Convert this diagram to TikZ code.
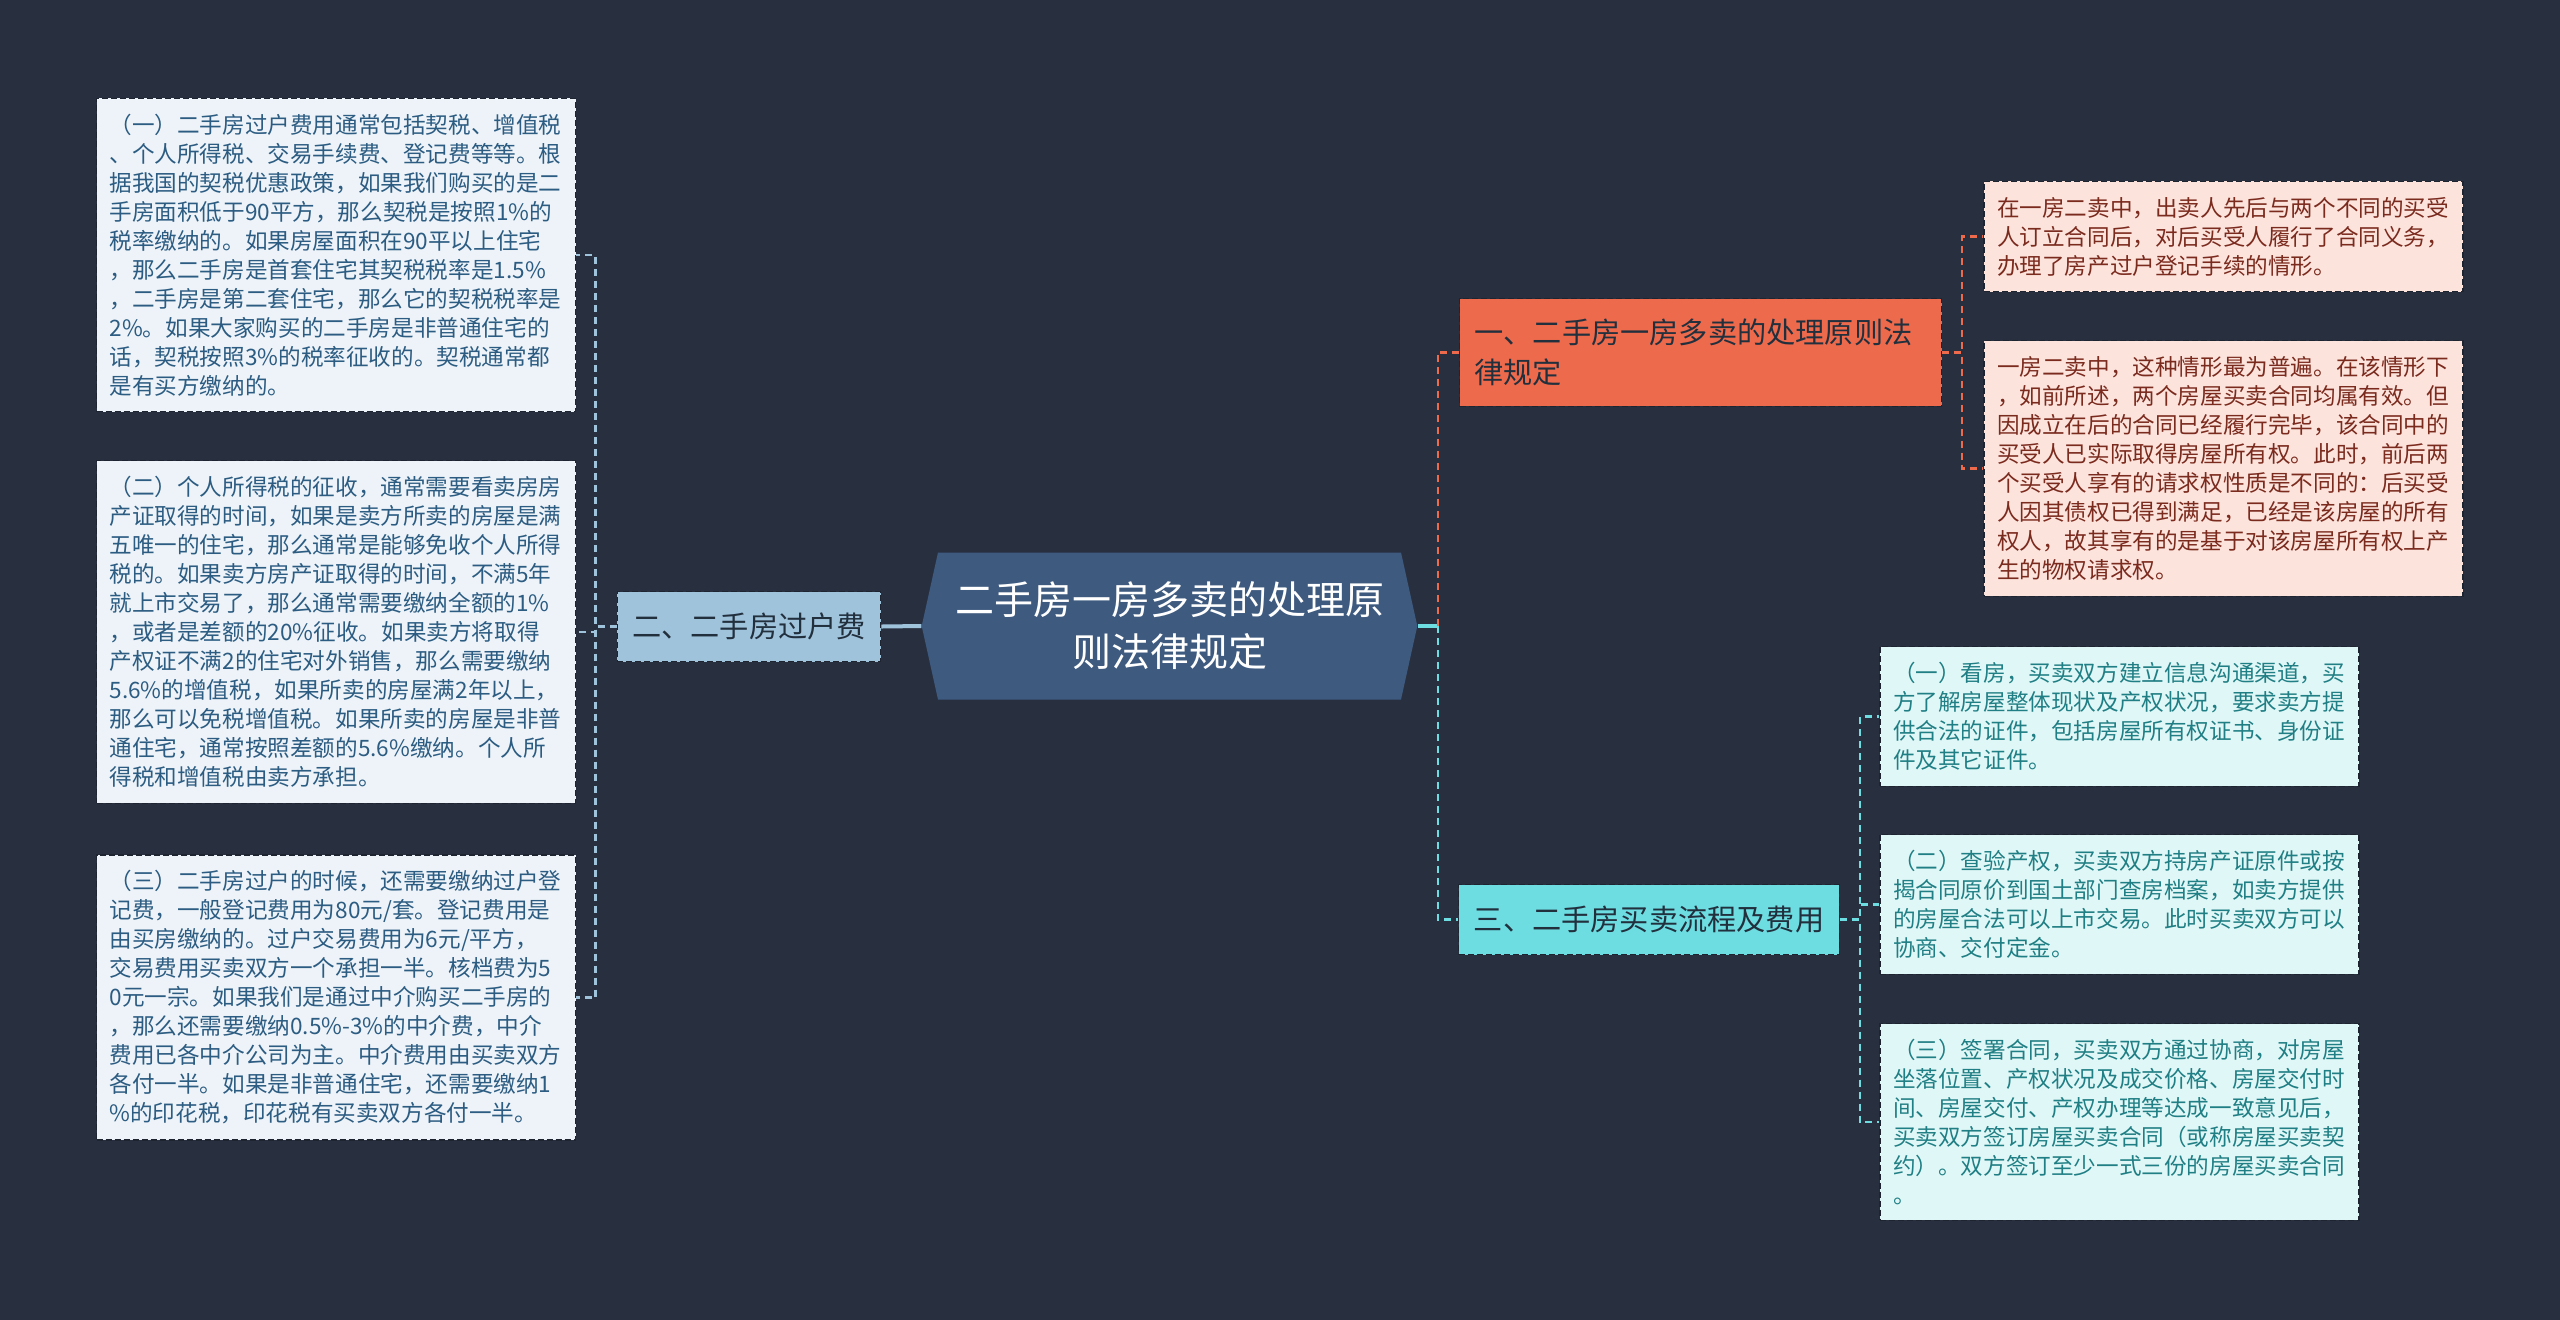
\documentclass[tikz,border=0pt]{standalone}
\usepackage{fontspec}
\setmainfont{Noto Sans CJK SC}
\usepackage{xcolor}
\usepackage{tikz}
\usetikzlibrary{shapes.symbols}
\definecolor{bgc}{HTML}{283040}
\definecolor{hubfill}{HTML}{3E5A7F}
\definecolor{fee}{HTML}{A0C3DC}
\definecolor{feeleaf}{HTML}{EDF3F8}
\definecolor{feetext}{HTML}{2C5C82}
\definecolor{rule}{HTML}{EE6A4C}
\definecolor{ruleleaf}{HTML}{FCE4DD}
\definecolor{ruletext}{HTML}{7B2A1E}
\definecolor{flow}{HTML}{6DDDE2}
\definecolor{flowleaf}{HTML}{E0F7F7}
\definecolor{flowtext}{HTML}{207F84}
\definecolor{ink}{HTML}{22303E}
\colorlet{edge}{bgc!75!black}

\begin{document}
\begin{tikzpicture}[x=0.5pt, y=-0.5pt,
  hub/.style={shape=signal, signal to=east and west, signal pointer angle=155,
    fill=hubfill, text=white, align=center, inner xsep=8.5pt,
    minimum height=73.5pt, font=\fontsize{19.5}{26}\selectfont},
  branch/.style={draw=edge, dash pattern=on 3pt off 1.5pt, line width=0.6pt,
    text=ink, inner xsep=7.5pt, minimum height=35pt,
    font=\fontsize{14.6}{20}\selectfont},
  leaf/.style={draw=edge, dash pattern=on 3pt off 1.5pt, line width=0.6pt,
    text width=226.5pt, align=left, inner xsep=6.5pt, inner ysep=7.8pt,
    font=\fontsize{11.3}{14.5}\selectfont},
  link/.style={line width=1.2pt, dash pattern=on 3.5pt off 2.5pt}]

  % --- canvas ----------------------------------------------------------------
  \useasboundingbox (0,0) rectangle (2560,1319);
  \fill[bgc] (-10,-10) rectangle (2570,1330);

  % --- centre ----------------------------------------------------------------
  \node[hub] (hub) at (1169.5,626) {二手房一房多卖的处理原\\则法律规定};

  % --- main branches -----------------------------------------------------------
  \node[branch, fill=fee] (fees) at (749,626.5) {二、二手房过户费};
  \node[branch, fill=rule, text width=226pt, align=left, inner ysep=10.2pt]
    (rules) at (1700.5,352.5) {一、二手房一房多卖的处理原则法\\律规定};
  \node[branch, fill=flow] (steps) at (1649,919.5) {三、二手房买卖流程及费用};

  % --- fees: left leaves -------------------------------------------------------
  \node[leaf, fill=feeleaf, text=feetext] (feeA) at (336,255) {%
    （一）二手房过户费用通常包括契税、增值税\\
    、个人所得税、交易手续费、登记费等等。根\\
    据我国的契税优惠政策，如果我们购买的是二\\
    手房面积低于90平方，那么契税是按照1\%的\\
    税率缴纳的。如果房屋面积在90平以上住宅\\
    ，那么二手房是首套住宅其契税税率是1.5\%\\
    ，二手房是第二套住宅，那么它的契税税率是\\
    2\%。如果大家购买的二手房是非普通住宅的\\
    话，契税按照3\%的税率征收的。契税通常都\\
    是有买方缴纳的。};
  \node[leaf, fill=feeleaf, text=feetext] (feeB) at (336,632) {%
    （二）个人所得税的征收，通常需要看卖房房\\
    产证取得的时间，如果是卖方所卖的房屋是满\\
    五唯一的住宅，那么通常是能够免收个人所得\\
    税的。如果卖方房产证取得的时间，不满5年\\
    就上市交易了，那么通常需要缴纳全额的1\%\\
    ，或者是差额的20\%征收。如果卖方将取得\\
    产权证不满2的住宅对外销售，那么需要缴纳\\
    5.6\%的增值税，如果所卖的房屋满2年以上，\\
    那么可以免税增值税。如果所卖的房屋是非普\\
    通住宅，通常按照差额的5.6\%缴纳。个人所\\
    得税和增值税由卖方承担。};
  \node[leaf, fill=feeleaf, text=feetext] (feeC) at (336,997.5) {%
    （三）二手房过户的时候，还需要缴纳过户登\\
    记费，一般登记费用为80元/套。登记费用是\\
    由买房缴纳的。过户交易费用为6元/平方，\\
    交易费用买卖双方一个承担一半。核档费为5\\
    0元一宗。如果我们是通过中介购买二手房的\\
    ，那么还需要缴纳0.5\%-3\%的中介费，中介\\
    费用已各中介公司为主。中介费用由买卖双方\\
    各付一半。如果是非普通住宅，还需要缴纳1\\
    \%的印花税，印花税有买卖双方各付一半。};

  % --- rules: right leaves -----------------------------------------------------
  \node[leaf, fill=ruleleaf, text=ruletext] (ruleA) at (2223.5,236.5) {%
    在一房二卖中，出卖人先后与两个不同的买受\\
    人订立合同后，对后买受人履行了合同义务，\\
    办理了房产过户登记手续的情形。};
  \node[leaf, fill=ruleleaf, text=ruletext] (ruleB) at (2223.5,468.5) {%
    一房二卖中，这种情形最为普遍。在该情形下\\
    ，如前所述，两个房屋买卖合同均属有效。但\\
    因成立在后的合同已经履行完毕，该合同中的\\
    买受人已实际取得房屋所有权。此时，前后两\\
    个买受人享有的请求权性质是不同的：后买受\\
    人因其债权已得到满足，已经是该房屋的所有\\
    权人，故其享有的是基于对该房屋所有权上产\\
    生的物权请求权。};

  % --- steps: right leaves -----------------------------------------------------
  \node[leaf, fill=flowleaf, text=flowtext] (stepA) at (2119.5,716.5) {%
    （一）看房，买卖双方建立信息沟通渠道，买\\
    方了解房屋整体现状及产权状况，要求卖方提\\
    供合法的证件，包括房屋所有权证书、身份证\\
    件及其它证件。};
  \node[leaf, fill=flowleaf, text=flowtext] (stepB) at (2119.5,904.5) {%
    （二）查验产权，买卖双方持房产证原件或按\\
    揭合同原价到国土部门查房档案，如卖方提供\\
    的房屋合法可以上市交易。此时买卖双方可以\\
    协商、交付定金。};
  \node[leaf, fill=flowleaf, text=flowtext] (stepC) at (2119.5,1122) {%
    （三）签署合同，买卖双方通过协商，对房屋\\
    坐落位置、产权状况及成交价格、房屋交付时\\
    间、房屋交付、产权办理等达成一致意见后，\\
    买卖双方签订房屋买卖合同（或称房屋买卖契\\
    约）。双方签订至少一式三份的房屋买卖合同\\
    。};

  % --- connectors --------------------------------------------------------------
  \draw[fee, line width=2pt] (fees.east) -- (hub.west);
  \foreach \leafname in {feeA, feeB, feeC}
    \draw[link, fee] (fees.west) -- ++(-21,0) |- (\leafname.east);

  \coordinate (hubR) at ([xshift=10pt]hub.east);
  \draw[flow, line width=2pt] (hub.east) -- (hubR);
  \draw[link, rule] (hubR) |- (rules.west);
  \draw[link, flow] (hubR) |- (steps.west);

  \foreach \leafname in {ruleA, ruleB}
    \draw[link, rule] (rules.east) -- ++(20,0) |- (\leafname.west);
  \foreach \leafname in {stepA, stepB, stepC}
    \draw[link, flow] (steps.east) -- ++(20,0) |- (\leafname.west);

\end{tikzpicture}
\end{document}
